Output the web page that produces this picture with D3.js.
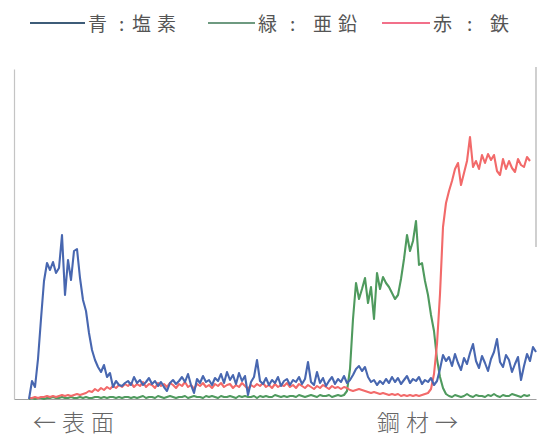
<!DOCTYPE html>
<html><head><meta charset="utf-8">
<script src="https://cdn.jsdelivr.net/npm/d3@7"></script>
<style>html,body{margin:0;padding:0;background:#fff;}svg{display:block;}</style>
</head><body>
<svg id="chart" width="539" height="440"></svg>
<script>
// Depth sampling: first sample and step (arbitrary depth units)
const depthStart = 15;
const depthStep = 3;
const depthMax = 522;
const intensityMax = 330;

// 青：塩素 (chlorine)
const chlorine = [0,18,12,40,80,118,136,129,137,126,131,164,104,139,119,148,150,121,99,88,66,49,39,32,27,34,22,26,12,18,14,13,16,18,14,22,
16,19,14,17,21,15,18,13,17,12,8,16,19,15,18,22,17,25,14,6,20,16,23,17,19,14,21,18,25,16,27,19,24,15,26,18,23,4,17,22,39,18,15,21,14,19,16,22,13,18,20,14,19,17,22,15,20,37,17,14,27,16,21,13,18,22,15,20,17,23,16,19,
24,30,33,28,32,22,17,19,14,18,15,20,16,22,17,21,15,19,23,16,20,18,22,15,19,17,21,14,18,
30,44,38,42,33,45,36,29,41,35,46,55,38,31,43,36,28,40,47,60,37,32,44,39,27,35,42,19,33,45,38,52,47];

// 緑：亜鉛 (zinc)
const zinc = [0,1,0,1,1,0,1,1,2,1,1,2,1,1,2,1,1,2,1,2,1,1,2,2,1,2,1,2,2,1,2,1,2,2,1,2,
1,2,3,1,2,2,1,3,2,1,2,3,2,1,2,2,3,1,2,3,2,2,1,3,2,3,2,1,3,2,2,3,2,1,3,2,3,2,2,3,1,3,2,3,2,2,4,3,2,3,2,3,3,2,4,3,2,3,4,3,2,4,3,3,4,2,3,4,3,4,
8,30,80,116,100,110,121,96,112,80,126,110,122,116,112,106,100,104,120,140,164,148,158,178,134,136,118,104,84,68,40,22,11,5,
3,2,4,3,2,3,5,3,2,4,3,3,2,4,3,5,3,2,4,3,3,5,4,3,2,4,3,4];

// 赤：鉄 (iron)
const iron = [1,1,2,1,2,2,3,2,3,2,3,4,3,4,3,4,5,4,5,6,8,7,10,8,11,9,12,10,13,11,14,12,15,13,16,12,
15,13,17,12,15,14,11,16,13,15,12,16,14,11,15,13,17,12,14,10,15,13,16,12,14,11,15,13,16,12,14,15,11,14,12,16,13,10,14,12,15,13,16,12,14,11,15,12,14,13,16,12,14,11,15,13,11,14,12,10,13,11,14,12,10,13,11,12,10,12,11,9,
8,9,10,9,8,7,6,7,6,5,6,5,4,5,4,5,3,4,3,4,3,4,3,4,5,6,10,
25,55,105,172,196,208,218,230,236,214,226,238,262,232,238,230,244,236,245,239,244,228,224,240,230,238,231,227,240,234,232,242,238];

const seriesNames = ["青", "緑", "赤"];
const elementNames = ["塩素", "亜鉛", "鉄"];
const axisLabels = ["←表面", "鋼材→"];

const svg = d3.select("#chart");
const x = d3.scaleLinear().domain([0, depthMax]).range([14, 536]);
const y = d3.scaleLinear().domain([0, intensityMax]).range([399, 69]);

const font = "'Noto Sans CJK JP', 'Noto Sans', sans-serif";

// axes (no ticks)
const gx = svg.append("g").attr("transform", "translate(0,399)")
  .call(d3.axisBottom(x).tickValues([]).tickSizeOuter(0));
gx.select(".domain").attr("stroke", "#a0a0a0").attr("stroke-width", 1.2);
const gy = svg.append("g").attr("transform", "translate(14,0)")
  .call(d3.axisLeft(y).tickValues([]).tickSizeOuter(0));
gy.select(".domain").attr("stroke", "#c4c4c4").attr("stroke-width", 1.2);
// right frame fragment
svg.append("line")
  .attr("x1", x(depthMax)).attr("x2", x(depthMax))
  .attr("y1", y(intensityMax + 2)).attr("y2", y(152))
  .attr("stroke", "#b0b0b0").attr("stroke-width", 1.2);

const lineGen = d3.line()
  .x((d, i) => x(depthStart + i * depthStep))
  .y(d => y(d));

const series = [
  {vals: zinc, color: "#4f9a5e"},
  {vals: iron, color: "#f26a6a"},
  {vals: chlorine, color: "#4867b0"}
];
series.forEach(s => {
  svg.append("path").datum(s.vals)
    .attr("fill", "none")
    .attr("stroke", s.color)
    .attr("stroke-width", 2.1)
    .attr("stroke-linejoin", "round")
    .attr("d", lineGen);
});

// legend
const legend = [
  {lx: [30, 85], color: "#3e5c78", chars: [[88, seriesNames[0]], [119, ":"], [132, elementNames[0]]]},
  {lx: [208, 255], color: "#6e9a80", chars: [[258, seriesNames[1]], [290, ":"], [313, elementNames[1]]]},
  {lx: [382, 430], color: "#f2708a", chars: [[433, seriesNames[2]], [467, ":"], [490, elementNames[2]]]}
];
legend.forEach(l => {
  svg.append("line").attr("x1", l.lx[0]).attr("x2", l.lx[1])
    .attr("y1", 23).attr("y2", 23)
    .attr("stroke", l.color).attr("stroke-width", 2);
  l.chars.forEach(([cx, t]) => {
    svg.append("text").attr("x", cx).attr("y", 31)
      .attr("font-family", font).attr("font-size", 19)
      .attr("letter-spacing", "6px")
      .attr("fill", "#555").text(t);
  });
});

// bottom labels
svg.append("text").attr("x", 33).attr("y", 431)
  .attr("font-family", font).attr("font-size", 23).attr("font-weight", 300)
  .attr("letter-spacing", "6px").attr("fill", "#666").text(axisLabels[0]);
svg.append("text").attr("x", 377).attr("y", 431)
  .attr("font-family", font).attr("font-size", 23).attr("font-weight", 300)
  .attr("letter-spacing", "6px").attr("fill", "#666").text(axisLabels[1]);
</script>
</body></html>
